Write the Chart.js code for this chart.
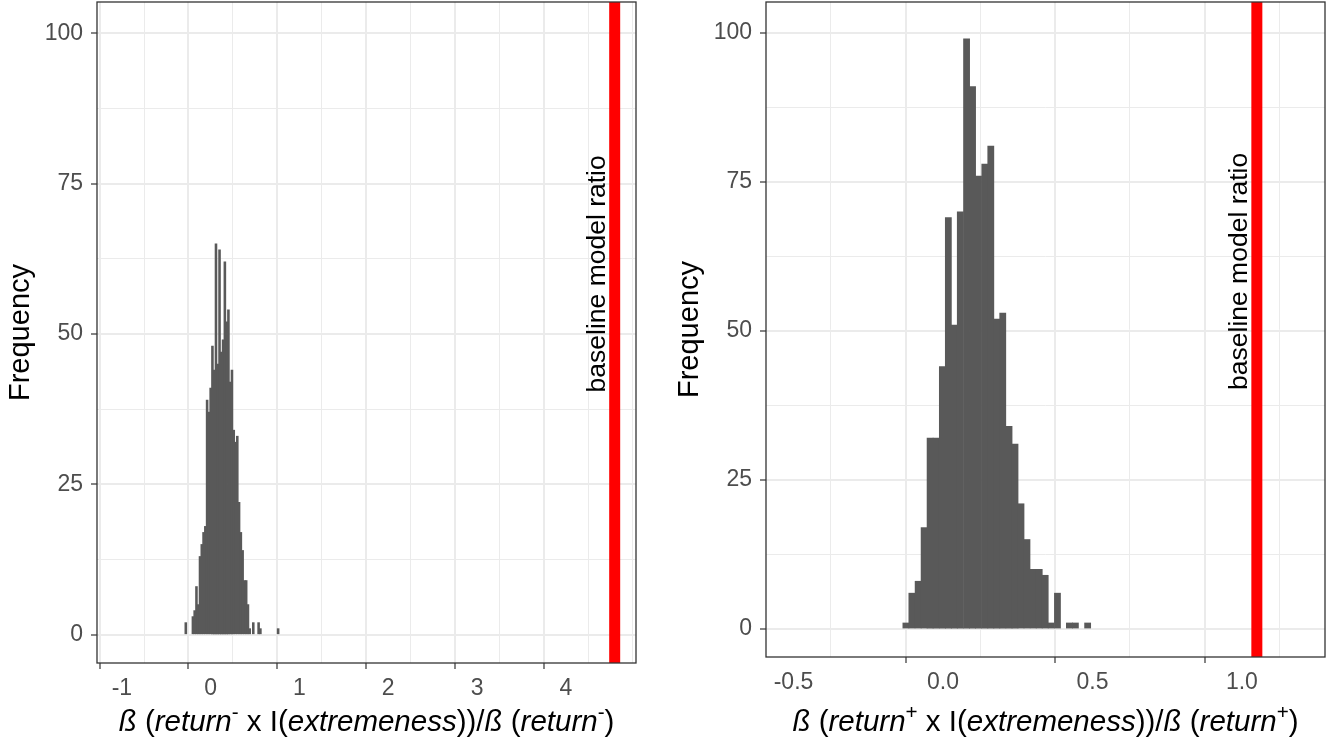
<!DOCTYPE html>
<html>
<head>
<meta charset="utf-8">
<script src="https://cdn.jsdelivr.net/npm/chart.js@4.4.1/dist/chart.umd.min.js"></script>
<style>
  html, body { margin: 0; padding: 0; background: #fff; }
  #wrap { position: relative; width: 1339px; height: 742px; background: #fff; }
  canvas { position: absolute; top: 0; }
  #leftChart { left: 0; }
  #rightChart { left: 669px; }
</style>
</head>
<body>
<div id="wrap">
  <canvas id="leftChart" width="669" height="742"></canvas>
  <canvas id="rightChart" width="670" height="742"></canvas>
</div>
<script>
// histogram bins (centres) and counts
const leftBins = [-0.28, -0.26, -0.24, -0.22, -0.20, -0.18, -0.16, -0.14, -0.12, -0.10,
  -0.08, -0.06, -0.04, -0.02, 0.00, 0.02, 0.04, 0.06, 0.08, 0.10,
  0.12, 0.14, 0.16, 0.18, 0.20, 0.22, 0.24, 0.26, 0.28, 0.30,
  0.32, 0.34, 0.36, 0.38, 0.40, 0.42, 0.44, 0.46, 0.48, 0.50,
  0.52, 0.54, 0.56, 0.58, 0.60, 0.62, 0.64, 0.66, 0.68, 0.70,
  0.72, 0.74, 0.76];
const leftCounts = [2, 0, 0, 0, 3, 4, 8, 5, 13, 15,
  17, 18, 39, 37, 41, 48, 44, 65, 45, 64,
  47, 49, 62, 52, 54, 42, 44, 34, 32, 33,
  22, 17, 14, 9, 9, 5, 1, 0, 2, 0,
  0, 2, 1, 0, 0, 0, 0, 0, 0, 0,
  0, 0, 1];

const rightBins = [-0.124, -0.104, -0.083, -0.063, -0.043, -0.023, -0.002, 0.018, 0.038, 0.058,
  0.079, 0.099, 0.119, 0.140, 0.160, 0.180, 0.200, 0.221, 0.241, 0.261,
  0.281, 0.302, 0.322, 0.342, 0.362, 0.383, 0.403, 0.423, 0.443, 0.464,
  0.484];
const rightCounts = [1, 6, 8, 17, 32, 32, 44, 69, 51, 70,
  99, 91, 76, 78, 81, 52, 53, 34, 31, 21,
  15, 10, 10, 9, 1, 6, 0, 1, 1, 0,
  1];

// baseline model ratio (red vertical line)
const leftBaseline = 4.55;
const rightBaseline = 1.05;

const yTicks = [0, 12.5, 25, 37.5, 50, 62.5, 75, 87.5, 100];
const yLabels = ['0', '', '25', '', '50', '', '75', '', '100'];
const leftXTicks = [-1, -0.5, 0, 0.5, 1, 1.5, 2, 2.5, 3, 3.5, 4, 4.5];
const leftXLabels = ['-1', '', '0', '', '1', '', '2', '', '3', '', '4', ''];
const rightXTicks = [-0.5, -0.25, 0, 0.25, 0.5, 0.75, 1, 1.25];
const rightXLabels = ['-0.5', '', '0.0', '', '0.5', '', '1.0', ''];

const leftTitle = [['ß', 'it'], [' (', ''], ['return', 'it'], ['-', 'sup'], [' x I(', ''], ['extremeness', 'it'], ['))/', ''], ['ß', 'it'], [' (', ''], ['return', 'it'], ['-', 'sup'], [')', '']];
const rightTitle = [['ß', 'it'], [' (', ''], ['return', 'it'], ['+', 'sup'], [' x I(', ''], ['extremeness', 'it'], ['))/', ''], ['ß', 'it'], [' (', ''], ['return', 'it'], ['+', 'sup'], [')', '']];

const FAM = '"Liberation Sans", Arial, Helvetica, sans-serif';
Chart.defaults.font.family = FAM;

// panel border, the rotated label and the mixed-style x title
function makeDecor(lineX, title, titleY) {
    return {
        id: 'decor',
        afterDatasetsDraw(chart) {
            const { ctx } = chart;
            const x = chart.scales.x.getPixelForValue(lineX) - 10;
            const y = chart.scales.y.getPixelForValue(60);
            ctx.save();
            ctx.translate(x, y);
            ctx.rotate(-Math.PI / 2);
            ctx.font = '26.5px ' + FAM;
            ctx.fillStyle = '#000';
            ctx.textAlign = 'center';
            ctx.textBaseline = 'alphabetic';
            ctx.fillText('baseline model ratio', 0, 0);
            ctx.restore();
        },
        afterDraw(chart) {
            const { ctx, chartArea: a } = chart;
            ctx.save();
            ctx.strokeStyle = '#333333';
            ctx.lineWidth = 1.3;
            ctx.strokeRect(a.left, a.top, a.right - a.left, a.bottom - a.top);
            const base = 29.5;
            const fontFor = s => s === 'sup' ? (base * 0.7) + 'px ' + FAM : (s === 'it' ? 'italic ' : '') + base + 'px ' + FAM;
            let total = 0;
            title.forEach(([t, s]) => { ctx.font = fontFor(s); total += ctx.measureText(t).width; });
            let x = (a.left + a.right) / 2 - total / 2;
            ctx.fillStyle = '#000';
            ctx.textBaseline = 'alphabetic';
            ctx.textAlign = 'left';
            title.forEach(([t, s]) => {
                ctx.font = fontFor(s);
                ctx.fillText(t, x, titleY - (s === 'sup' ? base * 0.42 : 0));
                x += ctx.measureText(t).width;
            });
            ctx.restore();
        }
    };
}

function gridOpts(labels) {
    return {
        color: '#ebebeb',
        lineWidth: c => labels[c.index] ? 2 : 1,
        tickColor: c => labels[c.index] ? '#333333' : 'rgba(0,0,0,0)',
        tickWidth: 1.2,
        tickLength: 6
    };
}

function buildChart(id, bins, counts, lineX, xMin, xMax, xTicks, xLabels, padRight, xHeight, title) {
    const bars = bins.map((b, i) => ({ x: b, y: counts[i] })).filter(p => p.y > 0);
    return new Chart(document.getElementById(id), {
        type: 'bar',
        data: {
            datasets: [
                {
                    type: 'line',
                    data: [{ x: lineX, y: -5 }, { x: lineX, y: 106 }],
                    borderColor: '#ff0000',
                    borderWidth: 11,
                    pointRadius: 0,
                    order: 0
                },
                {
                    type: 'bar',
                    data: bars,
                    backgroundColor: '#595959',
                    barPercentage: 1,
                    categoryPercentage: 1,
                    inflateAmount: 0.4,
                    grouped: false,
                    order: 1
                }
            ]
        },
        options: {
            responsive: false,
            animation: false,
            layout: { padding: { top: 2, right: padRight, bottom: 0, left: 0 } },
            plugins: { legend: { display: false }, tooltip: { enabled: false } },
            scales: {
                x: {
                    type: 'linear',
                    min: xMin, max: xMax,
                    offset: false,
                    bounds: 'data',
                    afterBuildTicks: ax => { ax.ticks = xTicks.map(v => ({ value: v })); },
                    afterFit: ax => { ax.height = xHeight; ax.paddingLeft = 0; ax.paddingRight = 0; },
                    ticks: {
                        autoSkip: false, maxRotation: 0,
                        callback: (v, i) => xLabels[i],
                        color: '#4d4d4d', font: { size: 23 }, padding: 6
                    },
                    grid: gridOpts(xLabels),
                    border: { display: false }
                },
                y: {
                    min: -4.7, max: 105.2,
                    bounds: 'data',
                    afterBuildTicks: ax => { ax.ticks = yTicks.map(v => ({ value: v })); },
                    afterFit: ax => { ax.width = 97; ax.paddingTop = 0; ax.paddingBottom = 0; },
                    ticks: {
                        autoSkip: false,
                        callback: (v, i) => yLabels[i],
                        color: '#4d4d4d', font: { size: 23 }, padding: 8
                    },
                    grid: gridOpts(yLabels),
                    border: { display: false },
                    title: { display: true, text: 'Frequency', color: '#000', font: { size: 29 }, padding: { top: 4, bottom: 0 } }
                }
            }
        },
        plugins: [makeDecor(lineX, title, 731)]
    });
}

buildChart('leftChart', leftBins, leftCounts, leftBaseline, -1.28, 4.79, leftXTicks, leftXLabels, 33, 79, leftTitle);
buildChart('rightChart', rightBins, rightCounts, rightBaseline, -0.592, 1.278, rightXTicks, rightXLabels, 14, 85, rightTitle);
</script>
</body>
</html>
